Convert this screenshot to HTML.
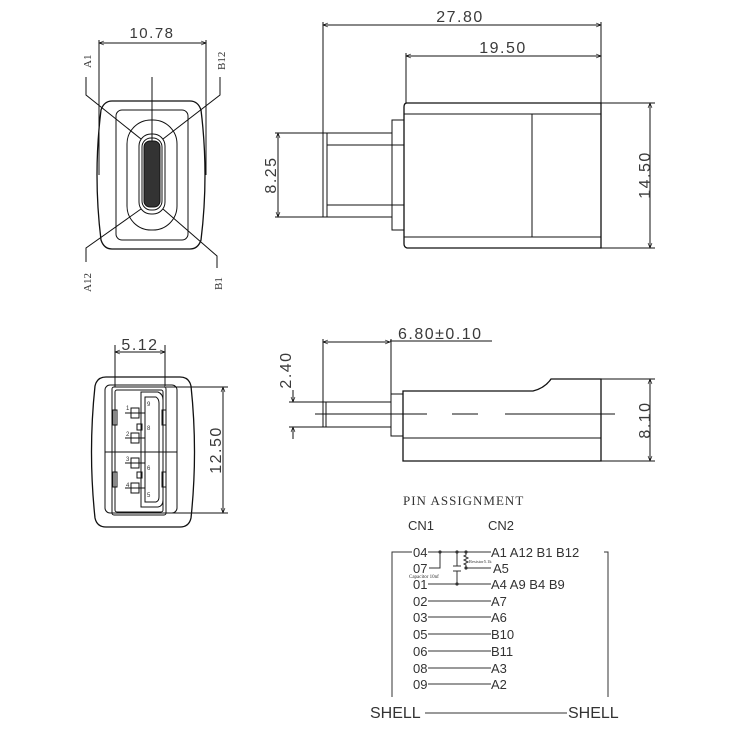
<!DOCTYPE html>
<html><head><meta charset="utf-8"><style>
html,body{margin:0;padding:0;background:#fff;}
svg{display:block;}
text{font-family:"Liberation Sans",sans-serif;fill:#333;}
.d{letter-spacing:1.5px;fill:#3a3a3a;}
.s{font-family:"Liberation Serif",serif;}
</style></head><body>
<svg width="750" height="750" viewBox="0 0 750 750" xmlns="http://www.w3.org/2000/svg">
<defs>
<marker id="a" viewBox="0 0 10 10" refX="10" refY="5" markerWidth="8" markerHeight="5" orient="auto-start-reverse" markerUnits="userSpaceOnUse"><path d="M0,1 L10,5 L0,9" fill="none" stroke="#000" stroke-width="1.2"/></marker>
</defs>
<g fill="none" stroke="#111" stroke-width="1">
<line x1="99" y1="43" x2="206" y2="43" marker-start="url(#a)" marker-end="url(#a)"/>
<line x1="99" y1="40" x2="99" y2="175"/>
<line x1="206" y1="40" x2="206" y2="175"/>
<path d="M112,101 L190,101 Q198,101 201,110 Q209,175 201,240 Q198,249 190,249 L112,249 Q104,249 101,240 Q93,175 101,110 Q104,101 112,101 Z" stroke-width="1.3"/>
<rect x="116" y="110" width="72" height="130" rx="6"/>
<rect x="127" y="120" width="50" height="110" rx="24"/>
<rect x="139" y="134" width="26" height="80" rx="12"/>
<rect x="142" y="138" width="20" height="72" rx="9"/>
<rect x="144" y="141" width="16" height="66" rx="6" fill="#333"/>
<line x1="152" y1="77" x2="152" y2="141"/>
<polyline points="86,77 86,95 141,139"/>
<polyline points="220,77 220,95 163,139"/>
<polyline points="141,209 86,248 86,262"/>
<polyline points="163,209 217,256 217,268"/>
</g>
<text class="d" x="152" y="38" font-size="15" text-anchor="middle">10.78</text>
<text class="s" font-size="11" transform="translate(91,68) rotate(-90)">A1</text>
<text class="s" font-size="11" transform="translate(225,70) rotate(-90)">B12</text>
<text class="s" font-size="11" transform="translate(91,292) rotate(-90)">A12</text>
<text class="s" font-size="11" transform="translate(222,290) rotate(-90)">B1</text>

<g fill="none" stroke="#111" stroke-width="1">
<line x1="323" y1="25" x2="601" y2="25" marker-start="url(#a)" marker-end="url(#a)"/>
<line x1="323" y1="22" x2="323" y2="133"/>
<line x1="601" y1="22" x2="601" y2="103"/>
<line x1="406" y1="56" x2="601" y2="56" marker-start="url(#a)" marker-end="url(#a)"/>
<line x1="406" y1="53" x2="406" y2="103"/>
<path d="M407,103 L601,103 L601,248 L407,248 Q404,247 404,244 L404,107 Q404,103 407,103 Z" stroke-width="1.3"/>
<line x1="404" y1="114" x2="601" y2="114"/>
<line x1="404" y1="237" x2="601" y2="237"/>
<line x1="532" y1="114" x2="532" y2="237"/>
<rect x="392" y="120" width="12" height="110"/>
<rect x="323" y="133" width="69" height="84"/>
<line x1="327" y1="133" x2="327" y2="217"/>
<line x1="327" y1="145" x2="404" y2="145"/>
<line x1="327" y1="205" x2="404" y2="205"/>
<line x1="278" y1="133" x2="278" y2="217" marker-start="url(#a)" marker-end="url(#a)"/>
<line x1="275" y1="133" x2="323" y2="133"/>
<line x1="275" y1="217" x2="323" y2="217"/>
<line x1="650" y1="103" x2="650" y2="248" marker-start="url(#a)" marker-end="url(#a)"/>
<line x1="601" y1="103" x2="655" y2="103"/>
<line x1="601" y1="248" x2="655" y2="248"/>
</g>
<text class="d" x="460" y="22" font-size="16" text-anchor="middle">27.80</text>
<text class="d" x="503" y="53" font-size="16" text-anchor="middle">19.50</text>
<text class="d" font-size="16" text-anchor="middle" transform="translate(276,175) rotate(-90)">8.25</text>
<text class="d" font-size="16" text-anchor="middle" transform="translate(650,175) rotate(-90)">14.50</text>

<g fill="none" stroke="#111" stroke-width="1">
<line x1="115" y1="352" x2="165" y2="352" marker-start="url(#a)" marker-end="url(#a)"/>
<line x1="115" y1="345" x2="115" y2="387"/>
<line x1="165" y1="345" x2="165" y2="387"/>
<path d="M106,377 L180,377 Q189,377 191,386 Q198,452 191,518 Q189,527 180,527 L106,527 Q97,527 95,518 Q88,452 95,386 Q97,377 106,377 Z" stroke-width="1.3"/>
<rect x="105" y="385" width="72" height="128" rx="5"/>
<rect x="112" y="387" width="54" height="128" rx="2"/>
<rect x="115" y="390" width="48" height="122" rx="2"/>
<path d="M141,392 L158,392 Q163,394 163,400 L163,500 Q163,506 158,507 L141,507 Z"/>
<path d="M145,397 L156,397 Q159,399 159,403 L159,497 Q159,501 156,502 L145,502 Z"/>
<line x1="105" y1="452" x2="177" y2="452"/>
<rect x="113" y="410" width="4" height="15"/><rect x="113" y="472" width="4" height="15"/>
<rect x="162" y="410" width="4" height="15"/><rect x="162" y="472" width="4" height="15"/>
<rect x="131" y="408" width="8" height="10"/><rect x="131" y="433" width="8" height="10"/>
<rect x="131" y="458" width="8" height="10"/><rect x="131" y="483" width="8" height="10"/>
<rect x="137" y="424" width="5" height="6"/><rect x="137" y="472" width="5" height="6"/>
<line x1="125" y1="413" x2="145" y2="413"/><line x1="125" y1="438" x2="145" y2="438"/>
<line x1="125" y1="463" x2="145" y2="463"/><line x1="125" y1="488" x2="145" y2="488"/>
<line x1="223" y1="387" x2="223" y2="513" marker-start="url(#a)" marker-end="url(#a)"/>
<line x1="166" y1="387" x2="228" y2="387"/>
<line x1="166" y1="513" x2="228" y2="513"/>
</g>
<text class="d" x="140" y="350" font-size="16" text-anchor="middle">5.12</text>
<text class="d" font-size="16" text-anchor="middle" transform="translate(221,450) rotate(-90)">12.50</text>
<g font-size="6">
<text x="126" y="410">1</text><text x="126" y="436">2</text><text x="126" y="461">3</text><text x="126" y="487">4</text>
<text x="147" y="406">9</text><text x="147" y="430">8</text><text x="147" y="470">6</text><text x="147" y="497">5</text>
</g>

<g fill="none" stroke="#111" stroke-width="1">
<line x1="323" y1="342" x2="390" y2="342" marker-start="url(#a)" marker-end="url(#a)"/>
<line x1="390" y1="341" x2="492" y2="341"/>
<line x1="323" y1="339" x2="323" y2="402"/>
<line x1="391" y1="339" x2="391" y2="394"/>
<rect x="323" y="402" width="68" height="25"/>
<line x1="326" y1="402" x2="326" y2="427"/>
<rect x="391" y="394" width="12" height="42"/>
<path d="M403,391 L533,391 Q545,388 551,379 L601,379 L601,461 L403,461 Z" stroke-width="1.3"/>
<line x1="403" y1="438" x2="601" y2="438"/>
<line x1="315" y1="414" x2="427" y2="414"/>
<line x1="452" y1="414" x2="478" y2="414"/>
<line x1="505" y1="414" x2="615" y2="414"/>
<line x1="293" y1="390" x2="293" y2="402" marker-end="url(#a)"/>
<line x1="293" y1="439" x2="293" y2="427" marker-end="url(#a)"/>
<line x1="289" y1="402" x2="323" y2="402"/>
<line x1="289" y1="427" x2="323" y2="427"/>
<line x1="650" y1="379" x2="650" y2="461" marker-start="url(#a)" marker-end="url(#a)"/>
<line x1="601" y1="379" x2="655" y2="379"/>
<line x1="601" y1="461" x2="655" y2="461"/>
</g>
<text class="d" x="398" y="339" font-size="16">6.80±0.10</text>
<text class="d" font-size="16" text-anchor="middle" transform="translate(291,370) rotate(-90)">2.40</text>
<text class="d" font-size="16" text-anchor="middle" transform="translate(650,420) rotate(-90)">8.10</text>

<text class="s" x="403" y="505" font-size="13" letter-spacing="1">PIN ASSIGNMENT</text>
<text x="408" y="530" font-size="13">CN1</text>
<text x="488" y="530" font-size="13">CN2</text>
<g fill="none" stroke="#333" stroke-width="1">
<polyline points="412,552 392,552 392,697"/>
<polyline points="604,552 608,552 608,697"/>
<line x1="428" y1="552" x2="491" y2="552"/>
<polyline points="429,568 440,568 440,552"/>
<line x1="428" y1="584" x2="491" y2="584"/>
<line x1="457" y1="552" x2="457" y2="566"/><line x1="457" y1="571" x2="457" y2="584"/>
<line x1="453" y1="566" x2="461" y2="566"/><line x1="453" y1="571" x2="461" y2="571"/>
<path d="M466,552 l0,3 l-2,1 l4,2 l-4,2 l4,2 l-4,2 l2,1 l0,3 l25,0"/>
<line x1="428" y1="601" x2="491" y2="601"/>
<line x1="428" y1="617" x2="491" y2="617"/>
<line x1="428" y1="634" x2="491" y2="634"/>
<line x1="428" y1="651" x2="491" y2="651"/>
<line x1="428" y1="668" x2="491" y2="668"/>
<line x1="428" y1="684" x2="491" y2="684"/>
<line x1="425" y1="713" x2="567" y2="713"/>
</g>
<g fill="#333"><circle cx="440" cy="552" r="1.6"/><circle cx="457" cy="552" r="1.6"/><circle cx="466" cy="552" r="1.6"/><circle cx="466" cy="568" r="1.6"/><circle cx="457" cy="584" r="1.6"/></g>
<g font-size="13">
<text x="413" y="557">04</text><text x="413" y="573">07</text><text x="413" y="589">01</text>
<text x="413" y="606">02</text><text x="413" y="622">03</text><text x="413" y="639">05</text>
<text x="413" y="656">06</text><text x="413" y="673">08</text><text x="413" y="689">09</text>
<text x="491" y="557">A1 A12 B1 B12</text><text x="493" y="573">A5</text><text x="491" y="589">A4 A9 B4 B9</text>
<text x="491" y="606">A7</text><text x="491" y="622">A6</text><text x="491" y="639">B10</text>
<text x="491" y="656">B11</text><text x="491" y="673">A3</text><text x="491" y="689">A2</text>
</g>
<text class="s" x="469" y="563" font-size="4.5">Resistor5.1k</text>
<text class="s" x="409" y="578" font-size="5">Capacitor 10nf</text>
<text x="370" y="718" font-size="16">SHELL</text>
<text x="568" y="718" font-size="16">SHELL</text>
</svg>
</body></html>
